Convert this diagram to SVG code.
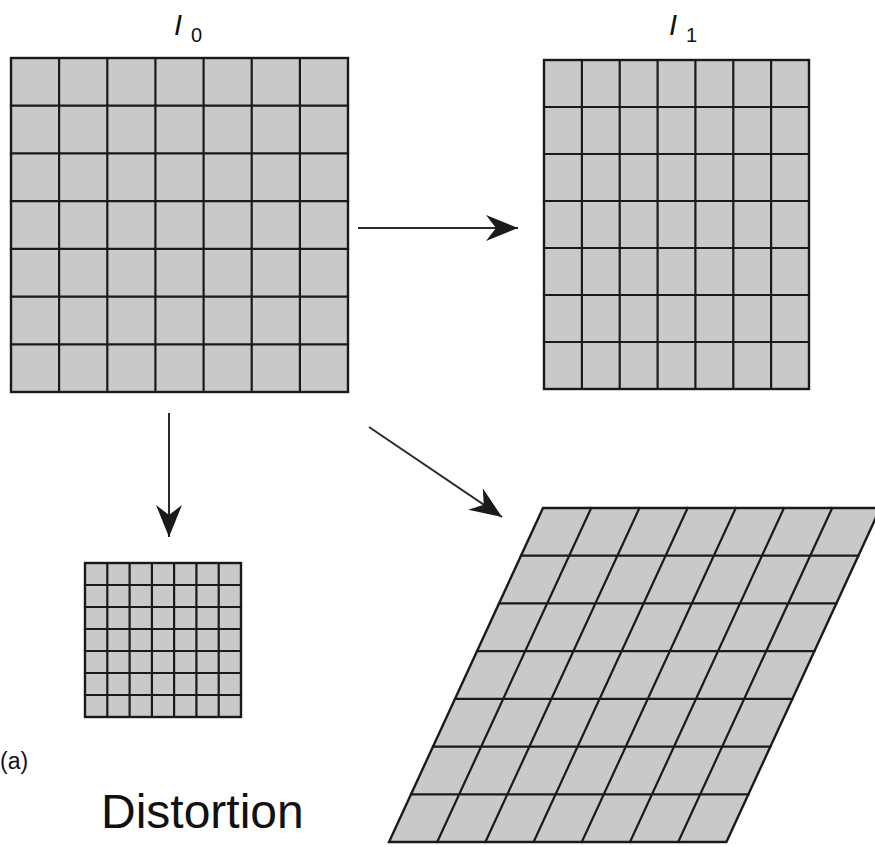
<svg xmlns="http://www.w3.org/2000/svg" width="875" height="847" viewBox="0 0 875 847">
  <style>
    .cell { fill: #c9c9c9; stroke: none; }
    .grid { fill: none; stroke: #1a1a1a; stroke-width: 2.2; stroke-linecap: square; }
    .edge { fill: none; stroke: #1a1a1a; stroke-width: 2.4; }
    .conn { fill: none; stroke: #2a2a2a; stroke-width: 2; marker-end: url(#head); }
    .lbl { font-family: "Liberation Sans", Arial, sans-serif; fill: #111; }
  </style>
  <defs>
    <marker id="head" viewBox="-33 -14 35 28" refX="0" refY="0" markerWidth="35" markerHeight="28" markerUnits="userSpaceOnUse" orient="auto">
      <path d="M0,0 L-32,-13 L-22,0 L-32,13 Z" fill="#1a1a1a"/>
    </marker>
  </defs>

  <rect width="875" height="847" fill="#ffffff"/>

  <g id="grid-i0">
    <rect class="cell" x="11" y="58" width="337" height="334"/>
    <path class="grid" d="M59.1,58V392M107.3,58V392M155.4,58V392M203.6,58V392M251.7,58V392M299.9,58V392M11,105.7H348M11,153.4H348M11,201.1H348M11,248.9H348M11,296.6H348M11,344.3H348"/>
    <rect class="edge" x="11" y="58" width="337" height="334"/>
  </g>

  <g id="grid-i1">
    <rect class="cell" x="544" y="60" width="265" height="329"/>
    <path class="grid" d="M581.9,60V389M619.7,60V389M657.6,60V389M695.4,60V389M733.3,60V389M771.1,60V389M544,107H809M544,154H809M544,201H809M544,248H809M544,295H809M544,342H809"/>
    <rect class="edge" x="544" y="60" width="265" height="329"/>
  </g>

  <g id="grid-scaled">
    <rect class="cell" x="85" y="563" width="156" height="154"/>
    <path class="grid" d="M107.3,563V717M129.6,563V717M151.9,563V717M174.1,563V717M196.4,563V717M218.7,563V717M85,585H241M85,607H241M85,629H241M85,651H241M85,673H241M85,695H241"/>
    <rect class="edge" x="85" y="563" width="156" height="154"/>
  </g>

  <g id="grid-sheared">
    <polygon class="cell" points="543,508 880.4,508 726.4,842 389,842"/>
    <path class="grid" d="M591.2,508L437.2,842M639.4,508L485.4,842M687.6,508L533.6,842M735.8,508L581.8,842M784,508L630,842M832.2,508L678.2,842M521,555.7H858.4M499,603.4H836.4M477,651.1H814.4M455,698.9H792.4M433,746.6H770.4M411,794.3H748.4"/>
    <polygon class="edge" points="543,508 880.4,508 726.4,842 389,842"/>
  </g>

  <g id="connectors">
    <line class="conn" x1="358" y1="228" x2="518" y2="228"/>
    <line class="conn" x1="169" y1="413" x2="169" y2="537"/>
    <line class="conn" x1="369" y1="427" x2="502" y2="517"/>
  </g>

  <g id="labels">
    <text class="lbl" x="174" y="35" font-size="29" font-style="italic">I</text>
    <text class="lbl" x="191" y="42" font-size="20">0</text>
    <text class="lbl" x="669" y="35" font-size="29" font-style="italic">I</text>
    <text class="lbl" x="686" y="42" font-size="20">1</text>
    <text class="lbl" x="0" y="769" font-size="23" fill="#444">(a)</text>
    <text class="lbl" x="101" y="828" font-size="48" fill="#000">Distortion</text>
  </g>
</svg>
